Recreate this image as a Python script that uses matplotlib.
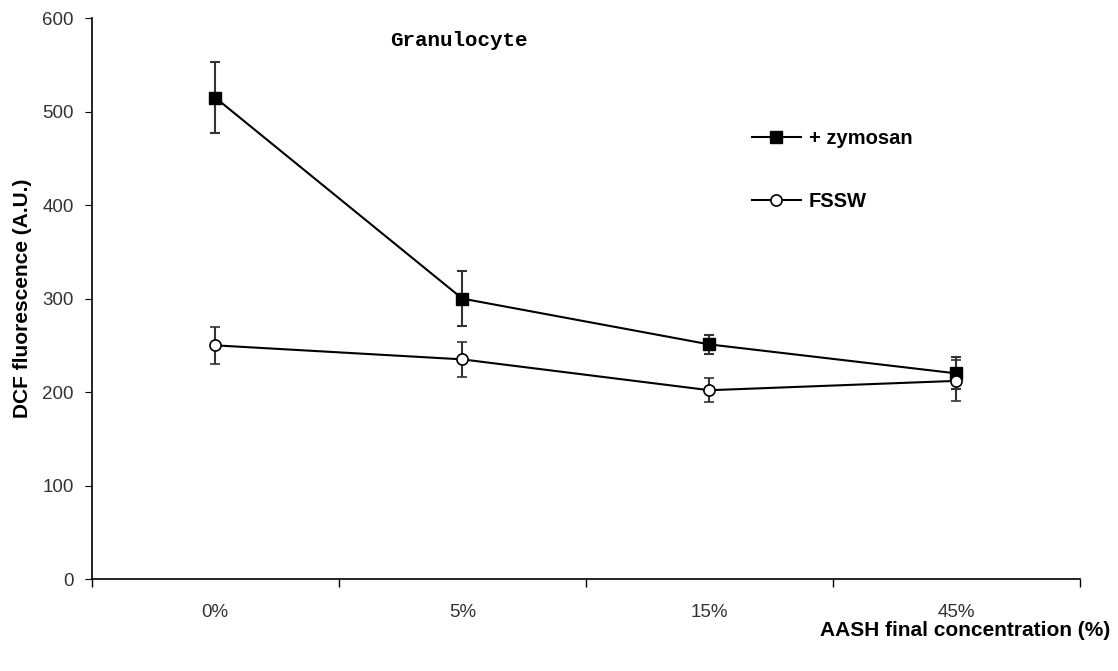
import matplotlib
matplotlib.use("Agg")
import matplotlib.pyplot as plt
from matplotlib.lines import Line2D

plt.rcParams['font.family'] = ['Liberation Sans', 'DejaVu Sans']

concentrations = ["0%", "5%", "15%", "45%"]
zymosan = [515, 300, 251, 220]
zymosan_err = [38, 29, 10, 17]
fssw = [250, 235, 202, 212]
fssw_err = [20, 19, 13, 22]

fig = plt.figure(figsize=(11.18, 6.71), dpi=100)
ax = fig.add_axes([0.082, 0.137, 0.884, 0.836])

pos = list(range(len(concentrations)))
ax.errorbar(pos, zymosan, yerr=zymosan_err, color="black", lw=1.5,
            marker="s", ms=8.5, mfc="black", mec="black",
            ecolor="#333333", elinewidth=1.5, capsize=3.5, capthick=1.5)
ax.errorbar(pos, fssw, yerr=fssw_err, color="black", lw=1.5,
            marker="o", ms=8, mfc="white", mec="black", mew=1.2,
            ecolor="#333333", elinewidth=1.5, capsize=3.5, capthick=1.5)

ax.set_xlim(-0.5, len(concentrations) - 0.5)
ax.set_ylim(0, 600)
ax.set_yticks(range(0, 601, 100))
ax.set_xticks([p - 0.5 for p in pos] + [len(concentrations) - 0.5])
ax.set_xticklabels([])
ax.set_xticks(pos, minor=True)
ax.set_xticklabels(concentrations, minor=True)
ax.tick_params(axis="x", which="minor", length=0, pad=18, labelsize=13.5, labelcolor="#333333")
ax.tick_params(axis="x", which="major", length=6, direction="out", width=1)
ax.tick_params(axis="y", length=5, direction="out", pad=8, labelsize=13.5, labelcolor="#333333")

for s in ["top", "right"]:
    ax.spines[s].set_visible(False)
for s in ["left", "bottom"]:
    ax.spines[s].set_linewidth(1.2)

ax.set_ylabel("DCF fluorescence (A.U.)", fontsize=15, fontweight="bold", labelpad=7)
fig.text(0.993, 0.061, "AASH final concentration (%)", ha="right", va="center",
         fontsize=15, fontweight="bold")
fig.text(0.41, 0.94, "Granulocyte", ha="center", va="center", fontsize=15,
         fontweight="bold", family=["Liberation Mono", "DejaVu Sans Mono"])

handles = [
    Line2D([], [], color="black", lw=1.5, marker="s", ms=8.5, mfc="black"),
    Line2D([], [], color="black", lw=1.5, marker="o", ms=8, mfc="white", mew=1.2),
]
ax.legend(handles, ["+ zymosan", "FSSW"], loc="upper left",
          bbox_to_anchor=(0.65, 0.835), frameon=False,
          labelspacing=2.2, handlelength=2.4, handletextpad=0.4,
          prop={"weight": "bold", "size": 14.5})

fig.savefig("out.png", dpi=100)
